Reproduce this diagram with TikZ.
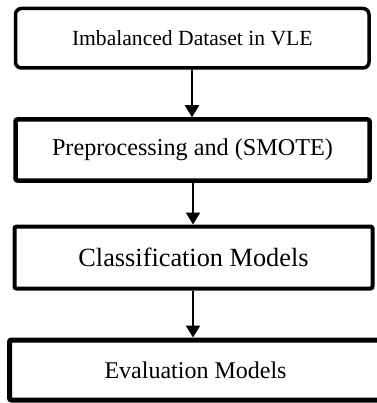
\documentclass[tikz,border=0pt]{standalone}
\usepackage{fontspec}
\setmainfont{Liberation Serif}
\usepackage{tikz}
\usetikzlibrary{arrows.meta}
\tikzset{
  stage/.style = {rectangle, draw=black, align=center, inner sep=0pt,
    text centered, rounded corners=2pt},% plain step box
  topstage/.style = {stage, rounded corners=6pt, line width=3.5pt},% first box
  flow/.style = {line width=2pt, -{Triangle[width=14pt,length=12pt]}}% arrow
}

\begin{document}
\begin{tikzpicture}[x=1pt,y=-1pt]
\useasboundingbox (0,0) rectangle (376,403);
\node [topstage, minimum width=353.5pt, minimum height=59.5pt,
  font=\fontsize{21.6}{24}\selectfont] (data) at (192.25,38.25) {Imbalanced Dataset in VLE};
\node [stage, line width=4.5pt, minimum width=354pt, minimum height=61pt,
  font=\fontsize{24.2}{27}\selectfont] (prep) at (192.5,150) {Preprocessing and (SMOTE)};
\node [stage, line width=4pt, minimum width=358pt, minimum height=62pt,
  font=\fontsize{26.3}{29}\selectfont] (clf) at (193.5,257.5) {Classification Models};
\node [stage, line width=5pt, minimum width=372pt, minimum height=60pt,
  font=\fontsize{24}{27}\selectfont] (eval) at (195.5,370) {Evaluation Models};

\coordinate (a1) at (192,0);
\coordinate (a2) at (193,0);
\draw [flow] (data.south -| a1) -- (prep.north -| a1);
\draw [flow] (prep.south -| a2) -- (clf.north -| a2);
\draw [flow] (clf.south -| a2) -- (eval.north -| a2);
\end{tikzpicture}
\end{document}
